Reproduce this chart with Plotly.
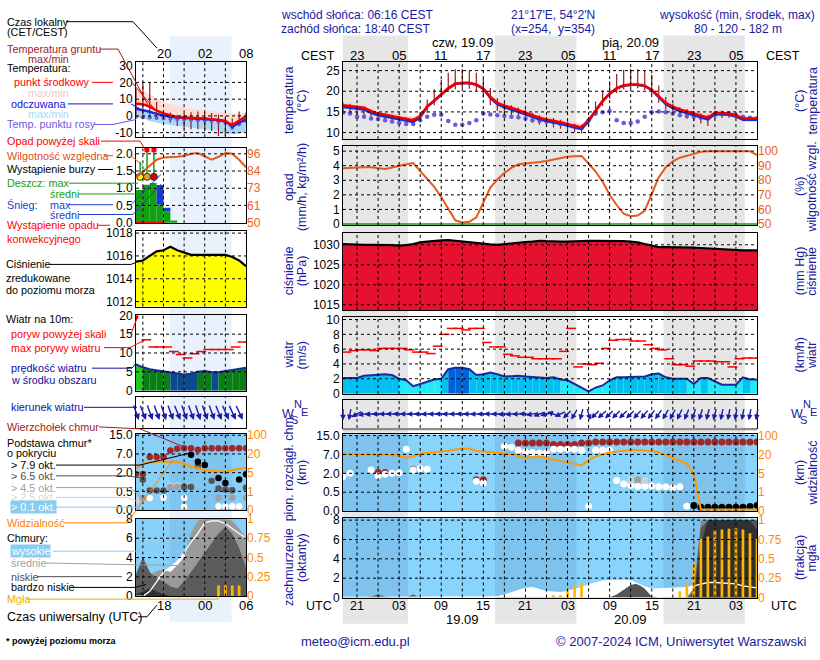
import numpy as np
import plotly.graph_objects as go

W, H = 820, 660
SANS = "Liberation Sans, Arial, sans-serif"
NAVY = "#1a1aa0"

# ======================= DATA : main meteogram (hours since 18.09 00 UTC) =======================
hours = [19, 20, 21, 22, 23, 24, 25, 26, 27, 28, 29, 30, 31, 32, 33, 34, 35, 36, 37, 38,
         39, 40, 41, 42, 43, 44, 45, 46, 47, 48, 49, 50, 51, 52, 53, 54, 55, 56, 57, 58,
         59, 60, 61, 62, 63, 64, 65, 66, 67, 68, 69, 70, 71, 72, 73, 74, 75, 76, 77, 78]
night_bands = [(19.0, 28.27), (40.67, 52.27), (64.67, 76.27)]

temp = [16.6, 16.4, 16.1, 16.0, 15.2, 14.6, 14.3, 14.0, 13.6, 13.3, 13.0, 14.0, 16.3, 17.7, 19.2, 20.7, 21.8, 22.0, 22.0, 21.6,
        20.6, 18.6, 17.2, 16.5, 16.0, 15.4, 14.9, 14.2, 13.6, 13.2, 12.9, 12.5, 12.1, 11.6, 11.3, 13.0, 15.3, 17.6, 19.4, 20.7,
        21.4, 21.6, 21.6, 21.3, 20.3, 18.8, 17.2, 16.3, 15.6, 15.1, 14.6, 14.0, 13.6, 14.8, 14.7, 14.6, 14.2, 13.4, 13.4, 13.4]
temp_max = [17.4, 17.2, 16.9, 16.8, 16.0, 15.4, 15.1, 14.8, 14.4, 14.1, 13.8, 14.6, 16.8, 18.2, 19.7, 21.2, 22.3, 22.5, 22.5, 22.1,
            21.1, 19.2, 17.9, 17.3, 16.8, 16.2, 15.7, 15.0, 14.4, 14.0, 13.7, 13.3, 12.9, 12.4, 12.1, 13.6, 15.8, 18.1, 19.9, 21.2,
            21.9, 22.1, 22.1, 21.8, 20.8, 19.4, 17.9, 17.1, 16.4, 15.9, 15.4, 14.8, 14.4, 15.5, 15.4, 15.3, 14.9, 14.1, 14.1, 14.1]
temp_min = [16.3, 16.1, 15.8, 15.7, 14.9, 14.3, 14.0, 13.7, 13.3, 13.0, 12.7, 13.7, 16.0, 17.4, 18.9, 20.4, 21.5, 21.7, 21.7, 21.3,
            20.3, 18.3, 16.9, 16.2, 15.7, 15.1, 14.6, 13.9, 13.3, 12.9, 12.6, 12.2, 11.8, 11.3, 11.0, 12.7, 15.0, 17.3, 19.1, 20.4,
            21.1, 21.3, 21.3, 21.0, 20.0, 18.5, 16.9, 16.0, 15.3, 14.8, 14.3, 13.7, 13.3, 14.5, 14.4, 14.3, 13.9, 13.1, 13.1, 13.1]
feel = [16.2, 16.0, 15.7, 15.6, 14.8, 14.2, 13.9, 13.6, 13.2, 12.9, 12.6, 13.7, 16.3, 17.7, 19.2, 20.7, 21.8, 22.0, 22.0, 21.6,
        20.6, 18.4, 16.9, 16.1, 15.6, 15.0, 14.5, 13.8, 13.2, 12.8, 12.5, 12.1, 11.7, 11.2, 10.9, 12.7, 15.3, 17.6, 19.4, 20.7,
        21.4, 21.6, 21.6, 21.3, 20.3, 18.7, 16.9, 15.9, 15.2, 14.7, 14.2, 13.6, 13.2, 14.5, 14.4, 14.3, 13.9, 13.1, 13.1, 13.1]
feel_min = [15.8, 15.6, 15.3, 15.2, 14.4, 13.8, 13.5, 13.2, 12.8, 12.5, 12.2, 13.3, 15.9, 17.3, 18.8, 20.3, 21.4, 21.6, 21.6, 21.2,
            20.2, 18.0, 16.5, 15.7, 15.2, 14.6, 14.1, 13.4, 12.8, 12.4, 12.1, 11.7, 11.3, 10.8, 10.5, 12.3, 14.9, 17.2, 19.0, 20.3,
            21.0, 21.2, 21.2, 20.9, 19.9, 18.3, 16.5, 15.5, 14.8, 14.3, 13.8, 13.2, 12.8, 14.1, 14.0, 13.9, 13.5, 12.7, 12.7, 12.7]
dew = [14.8, 14.6, 13.8, 13.8, 13.4, 13.3, 13.0, 12.7, 12.3, 12.1, 12.1, 13.0, 13.8, 14.3, 14.3, 12.8, 11.9, 11.9, 12.3, 13.0,
       14.6, 14.4, 14.2, 14.0, 13.8, 13.7, 13.4, 13.0, 12.8, 12.7, 12.5, 12.1, 11.9, 11.5, 11.1, 13.0, 14.6, 14.9, 15.2, 13.0,
       12.3, 12.3, 12.7, 13.8, 14.9, 15.1, 14.9, 14.6, 14.2, 14.0, 13.8, 13.6, 13.4, 14.2, 14.6, 14.6, 14.2, 13.8, 13.6, 13.4]
ground_max = [17.2, 17.0, 16.6, 16.3, 15.6, 15.0, 14.7, 14.4, 14.0, 13.7, 13.5, 14.8, 18.0, 20.5, 22.8, 24.5, 25.3, 25.3, 25.0, 24.5,
              23.0, 20.8, 18.3, 17.2, 16.6, 16.0, 15.5, 14.8, 14.2, 13.8, 13.5, 13.1, 12.7, 12.2, 11.9, 13.8, 17.5, 20.2, 22.4, 24.2,
              25.2, 25.4, 25.3, 25.0, 24.0, 21.4, 18.6, 17.0, 16.2, 15.7, 15.2, 14.6, 14.3, 15.3, 15.3, 15.2, 14.8, 14.1, 14.0, 14.0]
ground_min = [15.2, 14.8, 14.3, 14.0, 13.4, 12.9, 12.5, 12.2, 11.9, 11.6, 11.6, 12.8, 14.8, 16.6, 18.5, 19.8, 20.5, 20.8, 20.6, 20.0,
              18.5, 16.6, 15.3, 14.6, 14.0, 13.4, 12.9, 12.4, 11.9, 11.5, 11.2, 10.9, 10.5, 10.1, 9.8, 11.6, 14.0, 16.4, 18.2, 19.6,
              20.4, 20.7, 20.7, 20.3, 19.2, 17.2, 15.6, 14.6, 13.9, 13.3, 12.8, 12.2, 11.6, 13.2, 13.5, 13.6, 13.4, 12.9, 12.9, 13.0]
rain = [0.0, 0.0, 0.0, 0.0, 0.0, 0.0, 0.0, 0.0, 0.0, 0.0, 0.0, 0.0, 0.0, 0.0, 0.0, 0.0, 0.0, 0.0, 0.0, 0.0,
        0.0, 0.0, 0.0, 0.0, 0.0, 0.0, 0.0, 0.0, 0.0, 0.0, 0.0, 0.0, 0.0, 0.0, 0.0, 0.0, 0.0, 0.0, 0.0, 0.0,
        0.0, 0.0, 0.0, 0.0, 0.0, 0.0, 0.0, 0.0, 0.0, 0.0, 0.0, 0.0, 0.0, 0.0, 0.0, 0.0, 0.0, 0.0, 0.0, 0.0]
rh = [88.2, 88.6, 88.9, 88.9, 88.9, 88.5, 87.8, 88.8, 90.0, 91.0, 91.8, 86.5, 80.6, 75.5, 68.5, 60.0, 52.5, 51.0, 51.5, 54.5,
      65.0, 75.0, 80.5, 85.0, 88.5, 91.0, 91.5, 91.8, 92.5, 93.3, 94.2, 95.1, 96.2, 96.5, 96.7, 91.5, 86.0, 79.0, 70.0, 63.0,
      57.0, 55.3, 55.8, 59.0, 70.0, 82.0, 89.0, 93.0, 95.5, 96.7, 98.0, 99.5, 100, 100, 100, 100, 100, 100, 100, 97.3]
pressure = [1030.2, 1030.1, 1030.0, 1030.0, 1030.0, 1030.0, 1030.0, 1029.9, 1029.8, 1029.9, 1030.2, 1030.6, 1030.8, 1031.0, 1031.1,
            1031.2, 1031.0, 1030.8, 1030.6, 1030.4, 1030.2, 1030.1, 1030.0, 1030.2, 1030.4, 1030.6, 1030.7, 1030.8, 1031.0, 1030.9,
            1030.8, 1030.8, 1030.8, 1030.9, 1031.0, 1031.0, 1031.0, 1031.0, 1031.0, 1031.0, 1030.9, 1030.8, 1030.6, 1030.2, 1029.8,
            1029.4, 1029.4, 1029.4, 1029.3, 1029.3, 1029.3, 1029.2, 1029.1, 1029.0, 1028.9, 1028.7, 1028.6, 1028.6, 1028.6, 1028.6]
wind = [2.1, 2.1, 2.1, 2.4, 2.5, 2.6, 2.6, 2.5, 2.0, 1.8, 1.0, 1.3, 1.6, 1.9, 2.0, 3.3, 3.5, 3.5, 3.3, 2.5,
        2.6, 2.85, 2.6, 2.3, 2.35, 2.4, 2.3, 2.2, 2.2, 2.1, 2.2, 1.9, 1.8, 1.3, 0.8, 0.3, 0.8, 1.1, 1.8, 2.2,
        2.2, 2.2, 2.3, 2.3, 2.6, 2.7, 2.2, 2.0, 2.0, 2.0, 1.3, 2.1, 2.1, 1.6, 1.2, 1.2, 1.2, 2.2, 1.9, 1.9]
gust = [5.6, 5.8, 5.9, 5.9, 5.8, 6.1, 6.1, 6.1, 6.1, 5.9, 5.6, 5.6, 5.4, 6.4, 8.0, 8.8, 8.8, 8.6, 8.8, 8.8,
        6.9, 6.3, 6.3, 5.3, 5.1, 4.9, 4.9, 4.7, 4.7, 4.7, 4.7, 5.7, 8.8, 3.6, 4.0, 3.9, 4.1, 6.1, 7.2, 7.3,
        7.3, 7.1, 7.1, 6.6, 6.1, 5.9, 4.7, 3.9, 3.9, 3.7, 4.4, 4.4, 4.4, 4.3, 4.3, 3.6, 4.7, 4.8, 4.8, 4.8]
wind_dir = [0, 10, 60, 80, 85, 90, 90, 92, 95, 92, 90, 90, 88, 90, 92, 90, 90, 92, 90, 88,
            90, 92, 90, 85, 85, 88, 95, 80, 70, 75, 110, 65, 45, 30, 15, 345, 45, 48, 45, 45,
            45, 45, 42, 40, 38, 35, 30, 28, 25, 22, 20, 18, 15, 15, 12, 10, 10, 10, 10, 10]
visibility = [21.6, 20.5, 20.0, 19.8, 19.7, 19.8, 20.0, 19.5, 19.0, 17.2, 18.5, 24.0, 26.0, 28.0, 32.0, 36.0, 40.0, 45.6, 44.0, 36.0,
              32.0, 29.0, 26.0, 24.0, 21.0, 18.8, 17.2, 17.8, 18.5, 17.0, 16.1, 14.9, 13.7, 12.5, 11.3, 15.5, 18.5, 20.0, 28.0, 32.0,
              37.6, 40.0, 39.0, 37.6, 34.4, 28.0, 19.7, 17.0, 15.2, 12.5, 5.0, 0.08, 0.08, 0.08, 0.08, 0.08, 0.08, 0.08, 0.08, 0.08]
cloud_high = [0, 0, 0, 0, 0, 0, 0, 0, 0, 0, 0, 0, 0, 0, 0, 0, 0, 0, 0, 0,
              0, 0, 0.05, 0.25, 0.5, 0.75, 0.95, 1.03, 0.8, 0.6, 0.55, 0.5, 0.6, 0.86, 1.0, 1.3, 1.5, 1.7, 1.75, 1.79,
              1.78, 1.72, 1.4, 1.1, 0.86, 0.88, 0.92, 0.96, 1.0, 1.03, 1.2, 1.4, 1.55, 1.55, 1.52, 1.5, 1.4, 1.2, 1.1, 1.0]
cloud_mid = [0, 0, 0, 0, 0, 0, 0, 0, 0, 0, 0, 0, 0, 0, 0, 0, 0, 0, 0, 0,
             0, 0, 0, 0, 0, 0, 0, 0, 0, 0, 0, 0, 0, 0, 0, 0, 0, 0, 0, 0,
             0, 0, 0, 0, 0, 0, 0, 0, 0, 0, 1.0, 8, 8, 8, 8, 8, 8, 8, 8, 8]
cloud_low = [0, 0, 0, 0, 0.1, 0.3, 0.1, 0, 0, 0, 0.3, 0, 0, 0, 0, 0, 0, 0, 0, 0,
             0, 0, 0, 0, 0, 0, 0, 0, 0, 0, 0, 0, 0, 0, 0, 0, 0, 0, 0, 0.3,
             0.8, 1.3, 1.45, 0.9, 0.1, 0, 0, 0, 0, 0, 0.6, 7.2, 8, 8, 8, 8, 8, 8, 8, 8]
cloud_vlow = [0, 0, 0, 0, 0, 0, 0, 0, 0, 0, 0, 0, 0, 0, 0, 0, 0, 0, 0, 0,
              0, 0, 0, 0, 0, 0, 0, 0, 0, 0, 0, 0, 0, 0, 0, 0, 0, 0, 0, 0,
              0, 0, 0, 0, 0, 0, 0, 0, 0, 0, 0, 5.5, 8, 8, 8, 8, 8, 8, 8, 7.0]
fog_hours = [49, 50, 51, 52, 53, 67, 68, 69, 70, 71, 72, 73, 74, 75, 76, 77, 78]
fog = [0.03, 0.03, 0.09, 0.15, 0.18, 0.08, 0.17, 0.44, 0.76, 0.79, 0.87, 0.88, 0.89, 0.90, 0.88, 0.83, 0.76]

top_hours = [24, 25, 29, 38, 39, 44, 45, 46, 47, 48, 49, 50, 51, 52, 53, 54, 55, 56, 57, 58, 59, 60,
             61, 62, 63, 64, 65, 66, 67, 68, 69, 70, 71, 72, 73, 74, 75, 76, 77, 78]
top_km = [2.25, 2.25, 3.0, 1.49, 1.49, 11.9, 11.9, 11.9, 11.9, 11.9, 11.2, 11.2, 11.2, 11.2, 11.9, 11.9, 12.3, 12.3, 12.3, 12.3,
          12.3, 12.3, 12.3, 12.3, 12.3, 12.3, 12.3, 12.3, 12.3, 12.3, 12.3, 12.3, 12.3, 12.3, 12.3, 12.3, 12.3, 12.3, 12.3, 12.3]
base01_hours = [19, 20, 23, 24, 25, 26, 27, 28, 29, 30, 31, 38, 39, 42, 43, 44, 45, 46, 47, 48,
                49, 50, 51, 52, 53, 54, 55, 56, 57, 58, 59, 60, 61, 62, 63, 64, 65, 66, 67, 68]
base01_km = [1.75, 2.0, 2.85, 1.8, 1.93, 2.0, 2.15, 9.2, 2.85, 3.25, 3.1, 1.37, 1.24, 10.5, 10.1, 8.8, 8.1, 7.8, 7.6, 7.6,
             9.2, 9.2, 9.2, 9.2, 8.8, 0.13, 8.8, 8.8, 8.8, 1.42, 1.16, 1.06, 0.98, 0.98, 1.0, 0.93, 0.93, 0.86, 0.93, 0.13]
base25_hours = [60, 62]
base25_km = [1.44, 1.44]
base45_hours = [61]
base45_km = [1.49]
base79_hours = [69, 70, 71, 72, 73, 74, 75, 76, 77, 78]
base79_km = [0.15, 0.1, 0.1, 0.1, 0.1, 0.1, 0.1, 0.1, 0.12, 0.15]

# scales / tick labels
cloud_levels = [0, 0.5, 2, 7, 15]
vis_levels = [0, 1, 5, 20, 100]
utc_ticks = [21, 27, 33, 39, 45, 51, 57, 63, 69, 75]
utc_labels = ["21", "03", "09", "15", "21", "03", "09", "15", "21", "03"]
cest_labels = ["23", "05", "11", "17", "23", "05", "11", "17", "23", "05"]
date_ticks = [36, 60]
date_top = ["czw, 19.09", "pią, 20.09"]
date_bottom = ["19.09", "20.09"]

# ======================= DATA : small left meteogram =======================
mhours = [14, 15, 16, 17, 18, 19, 20, 21, 22, 23, 24, 25, 26, 27, 28, 29, 30]
mini_night = (18.9, 27.9)
mini_temp = [7.3, 7.0, 5.5, 3.1, 1.5, 0.2, -0.8, -1.0, -1.1, -1.2, -1.5, -2.0, -2.6, -3.2, -5.5, -3.0, -0.3]
mini_temp_max = [16.5, 15.0, 13.0, 10.5, 8.5, 7.0, 6.0, 5.0, 4.5, 4.0, 3.5, 3.0, 2.5, 2.0, 1.5, 1.5, 2.0]
mini_feel = [4.3, 3.5, 2.5, 1.2, 0.2, -0.5, -1.0, -1.2, -1.3, -1.4, -1.6, -2.0, -2.4, -3.0, -6.5, -4.0, -2.2]
mini_feel_min = [-1.0, -1.5, -3.0, -4.0, -5.0, -5.5, -6.0, -6.5, -7.0, -7.5, -8.0, -8.5, -9.0, -10.0, -11.0, -10.5, -9.5]
mini_dew = [-0.5, -0.8, -1.0, -1.2, -1.5, -1.7, -2.0, -2.2, -2.4, -2.6, -2.8, -3.0, -3.5, -4.0, -7.0, -5.0, -3.0]
mini_ground_max = [16.3, 19.9, 19.9, 8.5, 3.6, 2.0, 0.7, 1.7, 2.2, 2.7, 2.2, 1.7, 0.7, -1.2, -1.5, 2.7, 2.0]
mini_ground_min = [0.7, 0.7, 0.7, -2.2, -2.2, -4.0, -6.1, -8.0, -8.0, -8.0, -8.5, -9.0, -12.0, -12.0, -8.0, -2.2, -1.5]
mini_rh = [80, 84, 88, 92, 93.5, 94, 94, 94.5, 96, 96.5, 94, 92, 94, 96.5, 96, 92, 87]
mini_pres = [1015.5, 1015.6, 1016.0, 1016.4, 1016.5, 1016.8, 1016.5, 1016.3, 1016.1, 1016.1, 1016.1, 1016.1, 1016.1,
             1016.1, 1015.9, 1015.6, 1015.1]
mini_wind = [7.0, 6.2, 5.7, 5.4, 5.2, 4.8, 4.5, 4.3, 4.5, 5.0, 5.2, 4.9, 4.9, 5.2, 5.4, 5.8, 6.1]
mini_gust = [20.0, 13.5, 11.6, 11.6, 11.6, 10.4, 9.6, 8.7, 9.8, 10.4, 10.9, 10.9, 10.9, 10.9, 11.6, 12.9, 12.9]
mini_dir = [340, 338, 340, 340, 342, 340, 338, 340, 340, 342, 340, 340, 338, 336, 335, 335, 335]
mini_vis = [8.5, 12.0, 13.7, 13.7, 13.7, 13.7, 13.7, 12.0, 10.0, 9.0, 7.2, 6.5, 5.9, 6.2, 7.2, 8.0, 9.0]
mini_high = [0, 0, 0.5, 1.5, 2.5, 3.0, 3.6, 4.5, 5.6, 6.5, 7.6, 7.8, 7.8, 7.5, 7.0, 6.5, 6.0]
mini_mid = [2.0, 2.5, 2.2, 2.6, 2.8, 2.5, 3.2, 4.0, 6.5, 7.8, 8, 8, 8, 8, 7.8, 7.0, 6.0]
mini_low = [2.3, 4.0, 2.5, 1.8, 1.5, 1.0, 0.8, 1.5, 2.5, 3.5, 4.5, 5.5, 6.5, 7.2, 6.5, 5.0, 3.0]
mini_vlow = [0.2, 0.5, 0.8, 0.5, 0.2, 0, 0, 0, 0, 0, 0, 0, 0, 0, 0, 0, 0]
mini_fog_hours = [26, 27, 28, 29]
mini_fog = [0.14, 0.14, 0.14, 0.14]
mini_prec_hours = [14.5, 15.5, 16.5, 17.5, 18.5, 19.5]
mini_rain = [0.95, 1.1, 1.15, 0.52, 0.33, 0.06]
mini_snow = [0, 0, 0, 0.57, 0.1, 0]
mini_rainmax_hours = [14.6, 15.6, 16.6]
mini_rainmax = [1.77, 2.12, 2.12]
mini_storm_level = [1.33, 1.33, 1.33]
mini_storm_colors = ["#ffff00", "#f0a020", "#e00000"]
mini_conv_hours = [14.5, 15.5, 16.5, 17.5]
mini_conv = [0.0, 0.0, 0.0, 0.0]
mini_top_km = [1.9, 1.9, 6.2, 6.2, 6.2, 8.5, 9.2, 9.4, 9.4, 8.8, 9.4, 9.4, 9.4, 9.4, 9.4, 9.4, 9.4]
mini_b79_hours = [22, 23, 24, 26, 27, 29, 30]
mini_b79_km = [6.8, 4.9, 4.05, 1.57, 1.18, 1.45, 1.88]
mini_b65_hours = [15, 16, 17, 18, 21, 22, 23, 25, 26, 27, 28, 30]
mini_b65_km = [1.44, 0.58, 0.58, 0.58, 0.85, 0.85, 3.75, 1.36, 0.74, 0.66, 0.6, 0.8]
mini_b45_hours = [15, 19, 20, 26, 28, 30]
mini_b45_km = [0.32, 0.85, 0.85, 0.33, 0.33, 0.33]
mini_b25_hours = [14, 19, 20, 25]
mini_b25_km = [0.25, 0.95, 0.95, 1.4]
mini_b01_hours = [16, 18, 21, 21, 26, 27, 28, 29]
mini_b01_km = [0.32, 0.33, 0.32, 0.09, 0.1, 0.1, 0.1, 0.1]
mini_ticks = [18, 24, 30]
mini_cest = ["20", "02", "08"]
mini_utc = ["18", "00", "06"]

# ======================= LAYOUT GEOMETRY (pixels) =======================
MAIN_X = (343, 757)
MINI_X = (136, 246)
XR_MAIN = [19, 78]
XR_MINI = [14, 30]

layout = dict(width=W, height=H, margin=dict(l=0, r=0, t=0, b=0), paper_bgcolor="white",
              plot_bgcolor="rgba(0,0,0,0)", showlegend=False, barmode="overlay",
              font=dict(family=SANS, size=12, color="black"))
shapes, annotations = [], []
fig = go.Figure()


def ref(k, i):
    return k if i == 1 else f"{k}{i}"


def axkey(k, i):
    return f"{k}axis" if i == 1 else f"{k}axis{i}"


def panel(i, xpx, ypx, xr, yr, tv, tt, rid=None, rr=None, rtv=None, rtt=None, rcolor="black",
          xgrid=(), ygrid=()):
    layout[axkey("x", i)] = dict(domain=[xpx[0] / W, xpx[1] / W], range=xr, anchor=ref("y", i),
                                 showgrid=False, zeroline=False, showticklabels=False, ticks="",
                                 showline=True, mirror=True, linecolor="black", linewidth=1, fixedrange=True)
    layout[axkey("y", i)] = dict(domain=[1 - ypx[1] / H, 1 - ypx[0] / H], range=yr, anchor=ref("x", i),
                                 showgrid=False, zeroline=False, tickmode="array", tickvals=tv, ticktext=tt,
                                 ticks="", showline=True, mirror=True, linecolor="black", linewidth=1,
                                 tickfont=dict(family=SANS, size=12, color="black"), fixedrange=True)
    if rid:
        layout[axkey("y", rid)] = dict(overlaying=ref("y", i), side="right", anchor=ref("x", i), range=rr,
                                       tickmode="array", tickvals=rtv, ticktext=rtt, showgrid=False,
                                       zeroline=False, ticks="", showline=False, fixedrange=True,
                                       tickfont=dict(family=SANS, size=12, color=rcolor))
    for xv in xgrid:
        shapes.append(dict(type="line", xref=ref("x", i), yref=ref("y", i) + " domain", x0=xv, x1=xv, y0=0, y1=1,
                           line=dict(color="black", width=1, dash="3px,3px"), layer="above"))
    for yv in ygrid:
        shapes.append(dict(type="line", xref=ref("x", i) + " domain", yref=ref("y", i), x0=0, x1=1, y0=yv, y1=yv,
                           line=dict(color="black", width=1, dash="3px,3px"), layer="above"))


def add(tr, i, yi=None):
    tr.update(xaxis=ref("x", i), yaxis=ref("y", yi if yi else i))
    fig.add_trace(tr)


def txt(text, x, y, color="black", size=12, family=SANS, xanchor="left", xref="paper", angle=0, bg=None):
    a = dict(text=text, x=x / W if xref == "paper" else x, y=1 - y / H, xref=xref, yref="paper",
             xanchor=xanchor, yanchor="middle", showarrow=False, textangle=angle, borderpad=0,
             font=dict(color=color, size=size, family=family))
    if bg:
        a["bgcolor"] = bg
    annotations.append(a)


def conn(color, pts, width=1):
    path = "M " + " L ".join(f"{x / W:.5f},{1 - y / H:.5f}" for x, y in pts)
    shapes.append(dict(type="path", path=path, xref="paper", yref="paper",
                       line=dict(color=color, width=width), layer="above"))


def cpos(v):
    return np.interp(v, cloud_levels, [0, 1, 2, 3, 4])


def vpos(v):
    return np.interp(v, vis_levels, [0, 1, 2, 3, 4])


# ---------- background bands ----------
for a, b in night_bands:
    shapes.append(dict(type="rect", xref="x", yref="paper", x0=a, x1=b, y0=1 - 630 / H, y1=1 - 29 / H,
                       fillcolor="#e6e6e6", line=dict(width=0), layer="below"))
shapes.append(dict(type="rect", xref="x15", yref="paper", x0=mini_night[0], x1=mini_night[1],
                   y0=1 - 628 / H, y1=1 - 30 / H, fillcolor="#e9f1fc", line=dict(width=0), layer="below"))
for pid in (6, 7):
    shapes.append(dict(type="rect", xref=ref("x", pid), yref=ref("y", pid) + " domain", x0=XR_MAIN[0], x1=XR_MAIN[1],
                       y0=0, y1=1, fillcolor="#89d4fc", line=dict(width=0), layer="below"))
    for a, b in night_bands:
        shapes.append(dict(type="rect", xref=ref("x", pid), yref=ref("y", pid) + " domain", x0=a, x1=b, y0=0, y1=1,
                           fillcolor="#7ec2ee", line=dict(width=0), layer="below"))
for pid in (20, 21):
    shapes.append(dict(type="rect", xref=ref("x", pid), yref=ref("y", pid) + " domain", x0=XR_MINI[0], x1=XR_MINI[1],
                       y0=0, y1=1, fillcolor="#89d0f8", line=dict(width=0), layer="below"))
    shapes.append(dict(type="rect", xref=ref("x", pid), yref=ref("y", pid) + " domain", x0=mini_night[0],
                       x1=mini_night[1], y0=0, y1=1, fillcolor="#80c4f0", line=dict(width=0), layer="below"))

# ---------- panels ----------
xg_main = list(range(21, 78, 3))
xg_mini = [15, 18, 21, 24, 27]
cl_tv = [0, 1, 2, 3, 4]
panel(1, MAIN_X, (56, 135), XR_MAIN, [8.41, 27.13], [10, 15, 20, 25], ["10", "15", "20", "25"],
      8, [8.41, 27.13], [10, 15, 20, 25], ["10", "15", "20", "25"], xgrid=xg_main, ygrid=[10, 15, 20, 25])
panel(2, MAIN_X, (142.2, 222.7), XR_MAIN, [-0.067, 5.34], [0, 1, 2, 3, 4, 5], ["0", "1", "2", "3", "4", "5"],
      9, [49.3, 103.4], [50, 60, 70, 80, 90, 100], ["50", "60", "70", "80", "90", "100"], rcolor="#f06018",
      xgrid=xg_main, ygrid=[1, 2, 3, 4, 5])
panel(3, MAIN_X, (230.7, 309.5), XR_MAIN, [1013.7, 1033.0], [1015, 1020, 1025, 1030], ["1015", "1020", "1025", "1030"],
      10, [1013.7, 1033.0], [1015, 1020, 1025, 1030], ["761", "765", "769", "772"],
      xgrid=xg_main, ygrid=[1015, 1020, 1025, 1030])
panel(4, MAIN_X, (316.7, 395.5), XR_MAIN, [-0.07, 10.34], [0, 2, 4, 6, 8, 10], ["0", "2", "4", "6", "8", "10"],
      11, [-0.07, 10.34], [0, 2, 4, 6, 8, 10], ["0", "7", "14", "22", "29", "36"], xgrid=xg_main, ygrid=[2, 4, 6, 8, 10])
panel(5, MAIN_X, (401.7, 430), XR_MAIN, [-1, 1], [], [], xgrid=xg_main)
panel(6, MAIN_X, (436.7, 515), XR_MAIN, [0, 4.06], cl_tv, ["0.0", "0.5", "2.0", "7.0", "15.0"],
      12, [0, 4.06], cl_tv, ["0", "1", "5", "20", "100"], rcolor="#ff8c00", xgrid=xg_main, ygrid=[1, 2, 3, 4])
panel(7, MAIN_X, (522.3, 603.3), XR_MAIN, [0, 8.2], [0, 2, 4, 6, 8], ["0", "2", "4", "6", "8"],
      13, [0, 1.025], [0, 0.25, 0.5, 0.75, 1], ["0", "0.25", "0.5", "0.75", "1"], rcolor="#ff8c00",
      xgrid=xg_main, ygrid=[2, 4, 6, 8])

panel(15, MINI_X, (56, 133), XR_MINI, [-12.7, 32.3], [-10, 0, 10, 20, 30], ["-10", "0", "10", "20", "30"],
      22, [-12.7, 32.3], [-10, 0, 10, 20, 30], ["-10", "0", "10", "20", "30"], xgrid=xg_mini, ygrid=[-10, 0, 10, 20])
panel(16, MINI_X, (144, 221), XR_MINI, [-0.02, 2.17], [0, 0.5, 1, 1.5, 2], ["0.0", "0.5", "1.0", "1.5", "2.0"],
      23, [49.5, 99.9], [50, 61.5, 73, 84.5, 96], ["50", "61", "73", "84", "96"], rcolor="#f06018",
      xgrid=xg_mini, ygrid=[0.5, 1, 1.5, 2])
panel(17, MINI_X, (229, 306), XR_MINI, [1011.57, 1018.17], [1012, 1014, 1016, 1018], ["1012", "1014", "1016", "1018"],
      24, [1011.57, 1018.17], [1012, 1014, 1016, 1018], ["1012", "1014", "1016", "1018"],
      xgrid=xg_mini, ygrid=[1012, 1014, 1016, 1018])
panel(18, MINI_X, (315, 392), XR_MINI, [0, 20], [0, 5, 10, 15, 20], ["0", "5", "10", "15", "20"],
      25, [0, 20], [0, 5, 10, 15, 20], ["0", "18", "36", "54", "72"], xgrid=xg_mini, ygrid=[5, 10, 15])
panel(19, MINI_X, (398, 430), XR_MINI, [-1, 1], [], [], xgrid=xg_mini)
panel(20, MINI_X, (436, 514), XR_MINI, [0, 4.08], cl_tv, ["0.0", "0.5", "2.0", "7.0", "15.0"],
      26, [0, 4.08], cl_tv, ["0", "1", "5", "20", "100"], rcolor="#ff8c00", xgrid=xg_mini, ygrid=[1, 2, 3, 4])
panel(21, MINI_X, (523, 602), XR_MINI, [0, 8], [0, 2, 4, 6, 8], ["0", "2", "4", "6", "8"],
      27, [0, 1], [0, 0.25, 0.5, 0.75, 1], ["0", "0.25", "0.5", "0.75", "1"], rcolor="#ff8c00",
      xgrid=xg_mini, ygrid=[2, 4, 6])

# ======================= TRACES : main =======================
def band(i, x, lo, hi, color):
    add(go.Scatter(x=x, y=lo, mode="lines", line=dict(width=0), hoverinfo="skip"), i)
    add(go.Scatter(x=x, y=hi, mode="lines", line=dict(width=0), fill="tonexty", fillcolor=color, hoverinfo="skip"), i)


def vbars(i, x, lo, hi, color, width=1.2):
    xs, ys = [], []
    for h, a, b in zip(x, lo, hi):
        xs += [h, h, None]
        ys += [a, b, None]
    add(go.Scatter(x=xs, y=ys, mode="lines", line=dict(color=color, width=width), hoverinfo="skip"), i)


# temperature
band(1, hours, temp_min, temp_max, "#ffd6d2")
band(1, hours, feel_min, feel, "#b2dcf8")
vbars(1, hours, ground_min, ground_max, "#a01818")
add(go.Scatter(x=hours, y=dew, mode="markers", marker=dict(color="#6a5ae0", size=4.5)), 1)
add(go.Scatter(x=hours, y=feel, mode="lines", line=dict(color="#1a2ad8", width=2.5)), 1)
add(go.Scatter(x=hours, y=temp, mode="lines", line=dict(color="#ee0000", width=2.5)), 1)

# precipitation / humidity
add(go.Scatter(x=hours, y=rain, mode="lines", line=dict(color="#10a010", width=1.5)), 2)
add(go.Scatter(x=hours, y=rh, mode="lines", line=dict(color="#e85a1c", width=2)), 2, 9)

# pressure
add(go.Scatter(x=hours, y=pressure, mode="lines", line=dict(color="black", width=2.2), fill="tozeroy",
               fillcolor="#e5112f"), 3)


# wind
def wcol(v):
    return "#22e8f8" if v < 2 else ("#00c0f0" if v < 3 else ("#1080e8" if v < 3.4 else "#0062d8"))


def mwcol(v):
    return "#0b4a8c" if v < 5 else ("#0a7e14" if v < 6 else "#22c822")


def wind_fill(i, x, v, colf):
    for k in range(len(x) - 1):
        c = colf((v[k] + v[k + 1]) / 2)
        add(go.Scatter(x=[x[k], x[k + 1], x[k + 1], x[k]], y=[v[k], v[k + 1], 0, 0], mode="lines",
                       line=dict(width=0), fill="toself", fillcolor=c, hoverinfo="skip"), i)


wind_fill(4, hours, wind, wcol)
add(go.Scatter(x=hours, y=wind, mode="lines", line=dict(color="#1a2a9c", width=2)), 4)
add(go.Scatter(x=[h + 0.5 for h in hours], y=gust, mode="markers",
               marker=dict(symbol="line-ew", size=7, line=dict(color="#ff0000", width=1.5))), 4)


# wind direction arrows
def arrows(i, x, dirs, pxh, pxv, L, color, width, size):
    for h, d in zip(x, dirs):
        r = np.radians(d)
        sx, sy = -np.sin(r), np.cos(r)
        annotations.append(dict(x=h + (L / 2) * sx / pxh, y=-(L / 2) * sy / pxv, xref=ref("x", i), yref=ref("y", i),
                                ax=L * np.sin(r), ay=-L * np.cos(r), text="", showarrow=True, arrowhead=2,
                                arrowsize=size, arrowwidth=width, arrowcolor=color))


arrows(5, hours, wind_dir, (MAIN_X[1] - MAIN_X[0]) / (XR_MAIN[1] - XR_MAIN[0]), 14, 13, "#1c1ca8", 1.4, 0.8)

# cloud base / top
add(go.Scatter(x=top_hours, y=cpos(top_km), mode="markers", marker=dict(color="#a02828", size=7)), 6)
add(go.Scatter(x=base01_hours, y=cpos(base01_km), mode="markers", marker=dict(color="white", size=7)), 6)
add(go.Scatter(x=base25_hours, y=cpos(base25_km), mode="markers", marker=dict(color="#d0d0d0", size=7)), 6)
add(go.Scatter(x=base45_hours, y=cpos(base45_km), mode="markers", marker=dict(color="#a0a0a0", size=7)), 6)
add(go.Scatter(x=base79_hours, y=cpos(base79_km), mode="markers", marker=dict(color="black", size=7)), 6)
add(go.Scatter(x=hours, y=vpos(visibility), mode="lines", line=dict(color="#ff9900", width=2)), 6, 12)

# cloud cover
for arr, col in ((cloud_high, "white"), (cloud_mid, "#8a8a8a"), (cloud_low, "#555555"), (cloud_vlow, "#303030")):
    add(go.Scatter(x=hours, y=arr, mode="lines", line=dict(width=0), fill="tozeroy", fillcolor=col), 7)
add(go.Scatter(x=hours, y=cloud_high, mode="lines", line=dict(color="white", width=1.3)), 7)
add(go.Bar(x=fog_hours, y=fog, width=0.38, marker=dict(color="#ffb400", line=dict(width=0))), 7, 13)

# ======================= TRACES : small meteogram =======================
band(15, mhours, mini_temp, mini_temp_max, "#ffdcd4")
band(15, mhours, mini_feel_min, mini_feel, "#a8d8f8")
vbars(15, mhours, mini_ground_min, mini_ground_max, "#a01818")
add(go.Scatter(x=mhours, y=mini_dew, mode="markers", marker=dict(color="#6a5ae0", size=4)), 15)
add(go.Scatter(x=mhours, y=mini_feel, mode="lines", line=dict(color="#1a2ad8", width=2.5)), 15)
add(go.Scatter(x=mhours, y=mini_temp, mode="lines", line=dict(color="#ee0000", width=2.5)), 15)

add(go.Bar(x=mini_prec_hours, y=mini_rain, width=1, marker=dict(color="#10a010", line=dict(width=0))), 16)
add(go.Bar(x=mini_prec_hours, y=mini_snow, base=mini_rain, width=1, marker=dict(color="#1a3ad0", line=dict(width=0))), 16)
vbars(16, mini_rainmax_hours, mini_storm_level, mini_rainmax, "#10a010", 1.5)
add(go.Scatter(x=mini_rainmax_hours[1:], y=mini_rainmax[1:], mode="markers",
               marker=dict(symbol="square", size=5, color="#ff0000")), 16)
add(go.Scatter(x=mini_rainmax_hours, y=mini_storm_level, mode="markers",
               marker=dict(size=7, color=mini_storm_colors, line=dict(color="#303030", width=1))), 16)
add(go.Scatter(x=mini_conv_hours, y=mini_conv, mode="markers",
               marker=dict(symbol="line-ew", size=6, line=dict(color="#ff0000", width=2))), 16)
add(go.Scatter(x=mhours, y=mini_rh, mode="lines", line=dict(color="#e85a1c", width=2)), 16, 23)

add(go.Scatter(x=mhours, y=mini_pres, mode="lines", line=dict(color="black", width=2.2), fill="tozeroy",
               fillcolor="#ffff00"), 17)

wind_fill(18, mhours, mini_wind, mwcol)
add(go.Scatter(x=mhours, y=mini_wind, mode="lines", line=dict(color="#1a2a9c", width=2)), 18)
add(go.Scatter(x=[h + 0.5 for h in mhours[1:]], y=mini_gust[1:], mode="markers",
               marker=dict(symbol="line-ew", size=7, line=dict(color="#ff0000", width=1.5))), 18)
add(go.Scatter(x=mhours[:1], y=[19.6], mode="markers", marker=dict(color="#ff0000", size=5)), 18)

arrows(19, mhours, mini_dir, (MINI_X[1] - MINI_X[0]) / (XR_MINI[1] - XR_MINI[0]), 16, 17, "#1c1ca8", 1.4, 0.9)

add(go.Scatter(x=mhours, y=cpos(mini_top_km), mode="markers", marker=dict(color="#a02828", size=6.5)), 20)
add(go.Scatter(x=mini_b01_hours, y=cpos(mini_b01_km), mode="markers", marker=dict(color="white", size=6.5)), 20)
add(go.Scatter(x=mini_b25_hours, y=cpos(mini_b25_km), mode="markers", marker=dict(color="#d0d0d0", size=6.5)), 20)
add(go.Scatter(x=mini_b45_hours, y=cpos(mini_b45_km), mode="markers", marker=dict(color="#a0a0a0", size=6.5)), 20)
add(go.Scatter(x=mini_b65_hours, y=cpos(mini_b65_km), mode="markers", marker=dict(color="#555555", size=6.5)), 20)
add(go.Scatter(x=mini_b79_hours, y=cpos(mini_b79_km), mode="markers", marker=dict(color="black", size=6.5)), 20)
add(go.Scatter(x=mhours, y=vpos(mini_vis), mode="lines", line=dict(color="#ff9900", width=2)), 20, 26)

for arr, col in ((mini_high, "white"), (mini_mid, "#9a9a9a"), (mini_low, "#5c5c5c"), (mini_vlow, "#303030")):
    add(go.Scatter(x=mhours, y=arr, mode="lines", line=dict(width=0), fill="tozeroy", fillcolor=col), 21)
add(go.Scatter(x=mhours, y=mini_high, mode="lines", line=dict(color="white", width=1.3)), 21)
add(go.Bar(x=mini_fog_hours, y=mini_fog, width=0.4, marker=dict(color="#ffb400", line=dict(width=0))), 21, 27)

# direction panel bottom bar
shapes.append(dict(type="rect", xref="paper", yref="paper", x0=MAIN_X[0] / W, x1=MAIN_X[1] / W,
                   y0=1 - 432.5 / H, y1=1 - 430 / H, fillcolor="#8a8a8a", line=dict(width=0), layer="above"))

# ======================= TEXT =======================
# header
txt("wschód słońca: 06:16 CEST", 280, 8, NAVY)
txt("zachód słońca: 18:40 CEST", 280, 22, NAVY)
txt("21°17'E, 54°2'N", 553, 8, NAVY, xanchor="center")
txt("(x=254,  y=354)", 553, 22, NAVY, xanchor="center")
txt("wysokość (min, środek, max)", 816, 8, NAVY, xanchor="right")
txt("80 - 120 - 182 m", 738, 22, NAVY, xanchor="center")
for h, s in zip(date_ticks, date_top):
    txt(s, h, 36, "black", 13, xref="x", xanchor="center")
for h, s in zip(utc_ticks, cest_labels):
    txt(s, h, 50, "black", 13, xref="x", xanchor="center")
txt("CEST", 336, 50, "black", 12.5, xanchor="right")
txt("CEST", 765, 50, "black", 12.5)
for h, s in zip(utc_ticks, utc_labels):
    txt(s, h, 611.5, "black", 12.5, xref="x", xanchor="center")
for h, s in zip(date_ticks, date_bottom):
    txt(s, h, 626, "black", 13, xref="x", xanchor="center")
txt("UTC", 333, 611.5, "black", 12.5, xanchor="right")
txt("UTC", 770, 611.5, "black", 12.5)
txt("meteo@icm.edu.pl", 355, 648, NAVY, 13, xanchor="center")
txt("© 2007-2024 ICM, Uniwersytet Warszawski", 681, 648, NAVY, 13, xanchor="center")
for h, s in zip(mini_ticks, mini_cest):
    txt(s, h, 48, "black", 13, xref="x15", xanchor="center")
for h, s in zip(mini_ticks, mini_utc):
    txt(s, h, 611, "black", 13, xref="x15", xanchor="center")

# axis titles (rotated)
TS = 12.5
titles = [
    (96, "temperatura", "(°C)", "(°C)", "temperatura"),
    (184, "opad", "(mm/h, kg/m²/h)", "(%)", "wilgotność wzgl."),
    (270, "ciśnienie", "(hPa)", "(mm Hg)", "ciśnienie"),
    (356, "wiatr", "(m/s)", "(km/h)", "wiatr"),
    (476, None, "(km)", "(km)", "widzialność"),
    (563, None, "(oktanty)", "(frakcja)", "mgła"),
]
for yc, l1, l2, r1, r2 in titles:
    if l1:
        txt(l1, 289, yc, NAVY, TS, xanchor="center", angle=-90)
    txt(l2, 302, yc, NAVY, TS, xanchor="center", angle=-90)
    txt(r1, 800, yc, NAVY, TS, xanchor="center", angle=-90)
    txt(r2, 812.5, yc, NAVY, TS, xanchor="center", angle=-90)
txt("zachmurzenie  pion. rozciągł. chm.", 289, 514, NAVY, TS, xanchor="center", angle=-90)
for wx, wy in ((288, 416), (797, 416)):
    txt("W", wx, wy, NAVY, 12.5, xanchor="center")
    txt("N", wx + 10, wy - 10, NAVY, 11, xanchor="center")
    txt("E", wx + 16, wy - 2, NAVY, 11, xanchor="center")
    txt("S", wx + 6, wy + 6, NAVY, 11, xanchor="center")

# left legend
RED, DRED, GRN, BLU = "#ff0000", "#a01c1c", "#10a010", "#2040d0"
LS = 10.8
legend = [
    ("Czas lokalny", 6, 15, "black"), ("(CET/CEST)", 6, 26, "black"),
    ("Temperatura gruntu", 6, 43, DRED), ("max/min", 27, 53, DRED),
    ("Temperatura:", 6, 62, "black"), ("punkt środkowy", 13, 77, RED), ("max/min", 27, 88, "#f8c8c0"),
    ("odczuwana", 10, 99, "#1010e0"), ("max/min", 27, 109, "#a8d8f8"), ("Temp. punktu rosy", 6, 120, "#6a5ae0"),
    ("Opad powyżej skali", 6, 137, RED), ("Wilgotność względna", 6, 152, "#e05020"),
    ("Wystąpienie burzy", 6, 166, "black"), ("Deszcz: max", 6, 180, GRN), ("średni", 49, 191, GRN),
    ("Śnieg:", 6, 202, BLU), ("max", 49, 202, BLU), ("średni", 49, 212, BLU),
    ("Wystąpienie opadu", 6, 223, RED), ("konwekcyjnego", 6, 237, RED),
    ("Ciśnienie", 5, 263, "black"), ("zredukowane", 5, 277, "black"), ("do poziomu morza", 5, 289, "black"),
    ("Wiatr na 10m:", 5, 319, "black"), ("poryw powyżej skali", 10, 334, RED), ("max porywy wiatru", 10, 348, RED),
    ("prędkość wiatru", 10, 369, "#1010a0"), ("w środku obszaru", 10, 381, "#1010a0"),
    ("kierunek wiatru", 10, 409, "#1010a0"), ("Wierzchołek chmur", 6, 429, DRED),
    ("Podstawa chmur*", 6, 445, "black"), ("o pokryciu", 6, 456, "black"),
    ("> 7.9 okt.", 10, 468, "black"), ("> 6.5 okt.", 10, 479, "#505050"), ("> 4.5 okt.", 10, 491, "#a0a0a0"),
    ("> 2.5 okt.", 10, 501, "#d8d8d8"), ("Widzialność", 6, 527, "#ff8000"), ("Chmury:", 6, 543, "black"),
    ("średnie", 10, 568, "#a0a0a0"), ("niskie", 10, 582, "#505050"), ("bardzo niskie", 10, 593, "black"),
    ("Mgła", 6, 605, "#f0b000"),
]
for s, x, y, c in legend:
    txt(s, x, y, c, LS)
txt("> 0.1 okt.", 10, 511, "white", LS, bg="#88ccf0")
txt("wysokie", 10, 556, "white", LS, bg="#88ccf0")
txt("Czas uniwersalny (UTC)", 6, 623, "black", 12.5)
txt("<b>* powyżej poziomu morza</b>", 5, 648, "black", 9)

connectors = [
    ("black", [(66, 15), (133, 15), (157, 42)]),
    (DRED, [(100, 43), (118, 43), (148, 100)]),
    (RED, [(92, 77), (113, 77)]), (RED, [(131, 76), (156, 106)]),
    ("#1010e0", [(68, 99), (113, 99)]), ("#1010e0", [(131, 99), (140, 104)]),
    ("#6a5ae0", [(94, 120), (113, 120), (136, 115)]),
    (RED, [(101, 137), (140, 137), (146, 147)]),
    ("#e05020", [(104, 152), (113, 152)]), ("#e05020", [(131, 152), (143, 162)]),
    ("black", [(98, 166), (113, 166)]), ("black", [(131, 166), (137, 172)]),
    (GRN, [(69, 180), (138, 180)]), (GRN, [(79, 191), (141, 191)]),
    (BLU, [(69, 202), (113, 202)]), (BLU, [(131, 202), (161, 171)]),
    (BLU, [(79, 212), (133, 212), (161, 181)]),
    (RED, [(98, 223), (110, 223)]),
    ("black", [(49, 263), (131, 263), (136, 261)]),
    (RED, [(131, 334), (137, 318)]), (RED, [(104, 348), (130, 348), (145, 340)]),
    ("#1010a0", [(92, 369), (132, 369), (136, 364)]),
    ("#1010a0", [(84, 409), (137, 409)]),
    (DRED, [(99, 429), (140, 431), (183, 449)]),
    ("black", [(56, 468), (140, 468), (193, 455)]),
    ("#505050", [(56, 479), (127, 479), (141, 481)]),
    ("#a0a0a0", [(56, 491), (130, 491), (143, 502)]),
    ("#d0d0d0", [(56, 501), (127, 501), (137, 505)]),
    ("#88ccf0", [(56, 511), (140, 511)]),
    ("#ff8000", [(64, 527), (127, 527), (173, 463)]),
    ("#88ccf0", [(53, 556), (187, 556)]),
    ("#a0a0a0", [(46, 568), (192, 571)]),
    ("#505050", [(37, 582), (122, 582)]),
    ("black", [(71, 593), (135, 593), (146, 590)]),
    ("#f0b000", [(26, 605), (218, 605), (218, 592)]),
    ("black", [(138, 623), (147, 623), (157, 611)]),
]
for c, pts in connectors:
    conn(c, pts)

layout["shapes"] = shapes
layout["annotations"] = annotations
fig.update_layout(**layout)
fig.write_html("out.html", config={"displayModeBar": False},
               post_script="document.body.style.margin='0';document.body.style.padding='0';")
